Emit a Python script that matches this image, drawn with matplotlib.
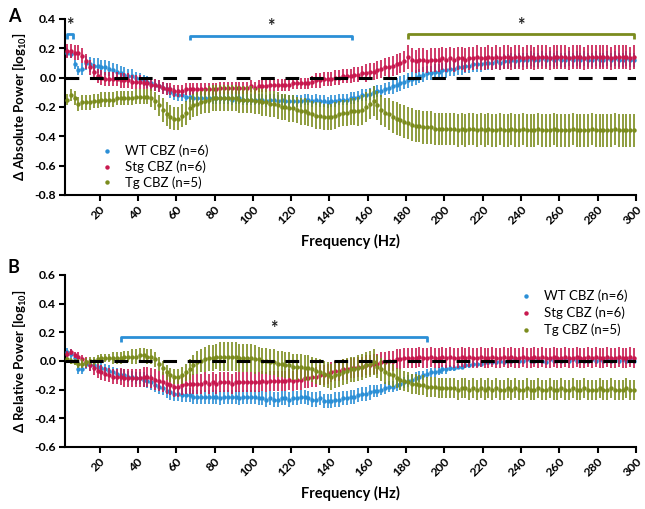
import numpy as np
import matplotlib
matplotlib.use("Agg")
import matplotlib.pyplot as plt

plt.rcParams['font.family'] = ['Lato', 'DejaVu Sans']
plt.rcParams['mathtext.fontset'] = 'custom'
plt.rcParams['mathtext.rm'] = 'Lato'
plt.rcParams['mathtext.bf'] = 'Lato:bold'

freq = list(range(3, 300, 2))  # Hz

# ---------------- Panel A: absolute power ----------------
absA_wt = [
    0.17, 0.16, 0.09, 0.05, 0.06, 0.10, 0.09, 0.08, 0.08, 0.07,
    0.07, 0.06, 0.05, 0.04, 0.03, 0.02, 0.01, 0.01, 0.00, -0.01,
    -0.02, -0.03, -0.04, -0.05, -0.06, -0.07, -0.08, -0.10, -0.11, -0.12,
    -0.12, -0.13, -0.13, -0.14, -0.14, -0.14, -0.14, -0.14, -0.14, -0.14,
    -0.14, -0.14, -0.14, -0.15, -0.14, -0.14, -0.15, -0.15, -0.15, -0.15,
    -0.15, -0.15, -0.16, -0.15, -0.15, -0.16, -0.15, -0.16, -0.16, -0.16,
    -0.16, -0.16, -0.15, -0.15, -0.16, -0.15, -0.16, -0.16, -0.17, -0.16,
    -0.16, -0.15, -0.15, -0.15, -0.14, -0.14, -0.13, -0.12, -0.12, -0.11,
    -0.10, -0.09, -0.09, -0.08, -0.07, -0.06, -0.05, -0.04, -0.03, -0.02,
    -0.01, 0.00, 0.01, 0.02, 0.03, 0.03, 0.04, 0.04, 0.05, 0.05,
    0.06, 0.06, 0.07, 0.07, 0.08, 0.08, 0.09, 0.09, 0.09, 0.10,
    0.10, 0.10, 0.11, 0.10, 0.11, 0.11, 0.12, 0.11, 0.12, 0.12,
    0.12, 0.13, 0.12, 0.12, 0.13, 0.12, 0.13, 0.12, 0.13, 0.12,
    0.12, 0.13, 0.12, 0.13, 0.12, 0.13, 0.12, 0.12, 0.13, 0.12,
    0.12, 0.13, 0.12, 0.13, 0.12, 0.12, 0.13, 0.12, 0.12]
absA_stg = [
    0.18, 0.18, 0.17, 0.17, 0.15, 0.11, 0.07, 0.04, 0.01, 0.00,
    -0.01, -0.01, -0.01, -0.01, -0.02, -0.02, -0.02, -0.03, -0.03, -0.03,
    -0.04, -0.04, -0.05, -0.05, -0.06, -0.07, -0.08, -0.08, -0.09, -0.09,
    -0.09, -0.08, -0.08, -0.08, -0.08, -0.08, -0.08, -0.08, -0.08, -0.08,
    -0.07, -0.07, -0.07, -0.07, -0.07, -0.07, -0.07, -0.07, -0.06, -0.07,
    -0.06, -0.06, -0.06, -0.05, -0.05, -0.05, -0.05, -0.05, -0.05, -0.04,
    -0.04, -0.04, -0.04, -0.04, -0.03, -0.02, -0.02, -0.01, -0.01, -0.01,
    0.00, 0.00, 0.01, 0.01, 0.01, 0.02, 0.02, 0.03, 0.03, 0.04,
    0.04, 0.05, 0.06, 0.07, 0.07, 0.08, 0.09, 0.10, 0.11, 0.14,
    0.12, 0.11, 0.12, 0.12, 0.11, 0.12, 0.12, 0.12, 0.13, 0.12,
    0.13, 0.12, 0.13, 0.13, 0.12, 0.13, 0.13, 0.14, 0.13, 0.13,
    0.14, 0.13, 0.14, 0.13, 0.14, 0.14, 0.13, 0.14, 0.14, 0.13,
    0.14, 0.14, 0.13, 0.14, 0.14, 0.14, 0.13, 0.14, 0.14, 0.14,
    0.14, 0.13, 0.14, 0.14, 0.14, 0.13, 0.14, 0.14, 0.14, 0.14,
    0.14, 0.14, 0.13, 0.14, 0.14, 0.14, 0.14, 0.13, 0.14]
absA_tg = [
    -0.15, -0.12, -0.14, -0.18, -0.17, -0.17, -0.17, -0.16, -0.16, -0.15,
    -0.15, -0.15, -0.15, -0.14, -0.14, -0.14, -0.14, -0.14, -0.13, -0.13,
    -0.13, -0.13, -0.14, -0.16, -0.19, -0.22, -0.25, -0.27, -0.28, -0.28,
    -0.26, -0.24, -0.21, -0.19, -0.18, -0.17, -0.16, -0.15, -0.14, -0.14,
    -0.14, -0.14, -0.14, -0.14, -0.14, -0.15, -0.15, -0.15, -0.15, -0.16,
    -0.16, -0.17, -0.17, -0.18, -0.18, -0.19, -0.20, -0.20, -0.21, -0.21,
    -0.22, -0.23, -0.23, -0.24, -0.25, -0.26, -0.26, -0.27, -0.27, -0.27,
    -0.26, -0.25, -0.24, -0.24, -0.23, -0.23, -0.23, -0.22, -0.20, -0.18,
    -0.16, -0.19, -0.22, -0.24, -0.25, -0.27, -0.28, -0.29, -0.30, -0.31,
    -0.32, -0.33, -0.33, -0.34, -0.34, -0.34, -0.35, -0.35, -0.35, -0.35,
    -0.35, -0.35, -0.36, -0.35, -0.36, -0.35, -0.35, -0.36, -0.35, -0.36,
    -0.35, -0.36, -0.36, -0.35, -0.36, -0.36, -0.35, -0.36, -0.36, -0.35,
    -0.36, -0.36, -0.36, -0.35, -0.36, -0.36, -0.36, -0.35, -0.36, -0.36,
    -0.36, -0.36, -0.35, -0.36, -0.36, -0.36, -0.36, -0.35, -0.36, -0.36,
    -0.36, -0.36, -0.36, -0.35, -0.36, -0.36, -0.36, -0.36, -0.36]
errA_wt = [
    0.03, 0.03, 0.03, 0.03, 0.04, 0.05, 0.05, 0.05, 0.05, 0.05,
    0.05, 0.05, 0.05, 0.05, 0.05, 0.05, 0.05, 0.05, 0.04, 0.04,
    0.04, 0.04, 0.04, 0.04, 0.04, 0.04, 0.04, 0.04, 0.04, 0.04,
    0.04, 0.04, 0.04, 0.04, 0.04, 0.04, 0.04, 0.04, 0.04, 0.04,
    0.04, 0.04, 0.04, 0.04, 0.04, 0.04, 0.04, 0.04, 0.04, 0.04,
    0.04, 0.04, 0.04, 0.04, 0.04, 0.04, 0.04, 0.04, 0.04, 0.04,
    0.04, 0.04, 0.04, 0.04, 0.04, 0.04, 0.04, 0.04, 0.04, 0.04,
    0.04, 0.04, 0.04, 0.04, 0.04, 0.04, 0.04, 0.04, 0.04, 0.04,
    0.04, 0.04, 0.04, 0.04, 0.04, 0.05, 0.05, 0.05, 0.05, 0.05,
    0.05, 0.05, 0.05, 0.05, 0.05, 0.05, 0.05, 0.05, 0.05, 0.05,
    0.05, 0.05, 0.05, 0.05, 0.05, 0.05, 0.05, 0.05, 0.05, 0.05,
    0.05, 0.05, 0.05, 0.05, 0.05, 0.05, 0.05, 0.05, 0.05, 0.05,
    0.05, 0.05, 0.05, 0.05, 0.05, 0.05, 0.05, 0.05, 0.05, 0.05,
    0.05, 0.05, 0.05, 0.05, 0.05, 0.05, 0.05, 0.05, 0.05, 0.05,
    0.05, 0.05, 0.05, 0.05, 0.05, 0.05, 0.05, 0.05, 0.05]
errA_stg = [
    0.05, 0.05, 0.05, 0.05, 0.05, 0.05, 0.05, 0.05, 0.05, 0.05,
    0.05, 0.05, 0.05, 0.05, 0.05, 0.05, 0.05, 0.05, 0.05, 0.05,
    0.04, 0.04, 0.04, 0.04, 0.04, 0.04, 0.04, 0.04, 0.04, 0.04,
    0.04, 0.04, 0.04, 0.04, 0.04, 0.04, 0.04, 0.04, 0.04, 0.04,
    0.04, 0.04, 0.04, 0.04, 0.04, 0.04, 0.04, 0.04, 0.04, 0.04,
    0.04, 0.04, 0.04, 0.04, 0.04, 0.04, 0.04, 0.04, 0.04, 0.04,
    0.04, 0.04, 0.04, 0.04, 0.04, 0.05, 0.05, 0.05, 0.05, 0.05,
    0.05, 0.05, 0.05, 0.05, 0.05, 0.05, 0.05, 0.05, 0.06, 0.06,
    0.06, 0.06, 0.06, 0.06, 0.07, 0.07, 0.07, 0.07, 0.07, 0.08,
    0.08, 0.08, 0.08, 0.08, 0.08, 0.08, 0.08, 0.08, 0.08, 0.08,
    0.08, 0.08, 0.08, 0.08, 0.08, 0.08, 0.08, 0.08, 0.08, 0.08,
    0.08, 0.08, 0.08, 0.08, 0.08, 0.08, 0.08, 0.08, 0.08, 0.08,
    0.08, 0.08, 0.08, 0.08, 0.08, 0.08, 0.08, 0.08, 0.08, 0.08,
    0.08, 0.08, 0.08, 0.08, 0.08, 0.08, 0.08, 0.08, 0.08, 0.08,
    0.08, 0.08, 0.08, 0.08, 0.08, 0.08, 0.08, 0.08, 0.08]
errA_tg = [
    0.04, 0.04, 0.05, 0.05, 0.05, 0.05, 0.05, 0.05, 0.05, 0.05,
    0.05, 0.05, 0.05, 0.05, 0.05, 0.05, 0.05, 0.05, 0.05, 0.05,
    0.05, 0.05, 0.06, 0.06, 0.07, 0.08, 0.08, 0.08, 0.08, 0.08,
    0.08, 0.08, 0.08, 0.08, 0.08, 0.08, 0.08, 0.09, 0.09, 0.09,
    0.09, 0.09, 0.09, 0.09, 0.09, 0.09, 0.09, 0.09, 0.09, 0.09,
    0.09, 0.09, 0.09, 0.09, 0.09, 0.09, 0.09, 0.09, 0.09, 0.09,
    0.09, 0.09, 0.09, 0.09, 0.09, 0.09, 0.09, 0.09, 0.09, 0.09,
    0.09, 0.09, 0.09, 0.09, 0.09, 0.09, 0.10, 0.10, 0.10, 0.10,
    0.10, 0.10, 0.10, 0.10, 0.11, 0.11, 0.11, 0.11, 0.11, 0.11,
    0.11, 0.11, 0.11, 0.11, 0.11, 0.11, 0.11, 0.11, 0.11, 0.11,
    0.11, 0.11, 0.11, 0.11, 0.11, 0.11, 0.11, 0.11, 0.11, 0.11,
    0.11, 0.11, 0.11, 0.11, 0.11, 0.11, 0.11, 0.11, 0.11, 0.11,
    0.11, 0.11, 0.11, 0.11, 0.11, 0.11, 0.11, 0.11, 0.11, 0.11,
    0.11, 0.11, 0.11, 0.11, 0.11, 0.11, 0.11, 0.11, 0.11, 0.11,
    0.11, 0.11, 0.11, 0.11, 0.11, 0.11, 0.11, 0.11, 0.11]

# ---------------- Panel B: relative power ----------------
relB_wt = [
    0.06, 0.05, 0.02, -0.06, -0.06, -0.02, -0.03, -0.03, -0.04, -0.05,
    -0.06, -0.07, -0.08, -0.09, -0.10, -0.10, -0.11, -0.11, -0.12, -0.12,
    -0.13, -0.14, -0.15, -0.17, -0.18, -0.19, -0.21, -0.22, -0.23, -0.23,
    -0.24, -0.24, -0.24, -0.25, -0.25, -0.25, -0.25, -0.25, -0.25, -0.25,
    -0.26, -0.25, -0.25, -0.25, -0.25, -0.26, -0.25, -0.25, -0.25, -0.25,
    -0.26, -0.26, -0.27, -0.26, -0.27, -0.27, -0.26, -0.26, -0.27, -0.26,
    -0.26, -0.25, -0.25, -0.26, -0.27, -0.27, -0.26, -0.28, -0.28, -0.28,
    -0.27, -0.27, -0.26, -0.26, -0.25, -0.25, -0.24, -0.23, -0.23, -0.22,
    -0.21, -0.21, -0.20, -0.19, -0.18, -0.18, -0.17, -0.16, -0.15, -0.14,
    -0.13, -0.12, -0.11, -0.10, -0.09, -0.08, -0.08, -0.07, -0.06, -0.06,
    -0.05, -0.05, -0.04, -0.04, -0.03, -0.03, -0.02, -0.02, -0.02, -0.01,
    -0.01, -0.01, -0.01, 0.00, -0.01, 0.00, 0.00, 0.01, 0.00, 0.00,
    0.01, 0.00, 0.00, 0.01, 0.00, -0.01, 0.01, 0.00, 0.01, 0.00,
    0.01, 0.00, 0.01, 0.00, 0.01, 0.00, 0.00, 0.01, 0.00, 0.01,
    0.00, 0.01, 0.00, 0.01, 0.00, 0.01, 0.00, 0.01, 0.00]
relB_stg = [
    0.05, 0.06, 0.04, 0.03, 0.01, -0.01, -0.03, -0.05, -0.07, -0.08,
    -0.09, -0.10, -0.11, -0.11, -0.11, -0.12, -0.12, -0.12, -0.12, -0.12,
    -0.11, -0.11, -0.12, -0.13, -0.14, -0.15, -0.16, -0.17, -0.18, -0.18,
    -0.17, -0.16, -0.16, -0.16, -0.16, -0.16, -0.15, -0.16, -0.15, -0.16,
    -0.15, -0.15, -0.15, -0.16, -0.15, -0.15, -0.15, -0.15, -0.15, -0.15,
    -0.15, -0.14, -0.15, -0.14, -0.14, -0.14, -0.14, -0.14, -0.13, -0.14,
    -0.13, -0.13, -0.12, -0.12, -0.11, -0.11, -0.10, -0.10, -0.09, -0.08,
    -0.07, -0.07, -0.06, -0.06, -0.05, -0.05, -0.04, -0.04, -0.03, -0.03,
    -0.02, -0.02, -0.01, -0.01, 0.00, 0.00, 0.01, 0.01, 0.02, 0.02,
    0.02, 0.02, 0.03, 0.02, 0.02, 0.03, 0.02, 0.02, 0.03, 0.02,
    0.03, 0.02, 0.02, 0.03, 0.02, 0.03, 0.02, 0.02, 0.03, 0.02,
    0.02, 0.03, 0.02, 0.02, 0.03, 0.02, 0.03, 0.02, 0.02, 0.03,
    0.02, 0.02, 0.03, 0.02, 0.03, 0.02, 0.02, 0.03, 0.02, 0.02,
    0.03, 0.02, 0.02, 0.03, 0.02, 0.02, 0.03, 0.02, 0.03, 0.02,
    0.02, 0.03, 0.02, 0.02, 0.03, 0.02, 0.02, 0.03, 0.02]
relB_tg = [
    0.01, 0.00, -0.01, -0.02, -0.02, -0.01, 0.00, 0.00, 0.01, 0.02,
    0.02, 0.02, 0.02, 0.02, 0.02, 0.03, 0.03, 0.03, 0.03, 0.04,
    0.04, 0.03, 0.03, 0.01, -0.02, -0.05, -0.08, -0.10, -0.11, -0.11,
    -0.10, -0.08, -0.06, -0.03, -0.01, 0.00, 0.01, 0.02, 0.02, 0.03,
    0.03, 0.03, 0.03, 0.03, 0.03, 0.02, 0.02, 0.02, 0.02, 0.01,
    0.01, 0.00, 0.00, -0.01, -0.01, -0.02, -0.02, -0.03, -0.03, -0.04,
    -0.04, -0.04, -0.05, -0.05, -0.06, -0.07, -0.08, -0.09, -0.10, -0.11,
    -0.10, -0.09, -0.08, -0.07, -0.06, -0.06, -0.05, -0.04, -0.03, -0.02,
    -0.01, -0.04, -0.06, -0.08, -0.09, -0.10, -0.12, -0.13, -0.14, -0.15,
    -0.16, -0.16, -0.17, -0.17, -0.18, -0.18, -0.18, -0.19, -0.19, -0.19,
    -0.19, -0.19, -0.20, -0.19, -0.19, -0.20, -0.19, -0.20, -0.19, -0.20,
    -0.19, -0.20, -0.19, -0.20, -0.20, -0.19, -0.20, -0.19, -0.20, -0.20,
    -0.19, -0.20, -0.20, -0.19, -0.20, -0.20, -0.19, -0.20, -0.20, -0.19,
    -0.20, -0.20, -0.19, -0.20, -0.20, -0.19, -0.20, -0.20, -0.20, -0.19,
    -0.20, -0.20, -0.19, -0.20, -0.20, -0.20, -0.19, -0.20, -0.20]
errB_wt = [
    0.03, 0.03, 0.03, 0.03, 0.03, 0.04, 0.04, 0.04, 0.04, 0.04,
    0.04, 0.04, 0.04, 0.04, 0.04, 0.04, 0.04, 0.04, 0.04, 0.04,
    0.05, 0.05, 0.05, 0.05, 0.05, 0.05, 0.05, 0.05, 0.05, 0.05,
    0.05, 0.05, 0.05, 0.05, 0.05, 0.05, 0.05, 0.05, 0.05, 0.05,
    0.05, 0.05, 0.05, 0.05, 0.05, 0.05, 0.05, 0.05, 0.05, 0.05,
    0.05, 0.05, 0.05, 0.05, 0.05, 0.05, 0.05, 0.05, 0.05, 0.05,
    0.05, 0.05, 0.05, 0.05, 0.05, 0.05, 0.05, 0.05, 0.05, 0.05,
    0.05, 0.05, 0.05, 0.05, 0.05, 0.05, 0.05, 0.05, 0.05, 0.05,
    0.04, 0.04, 0.04, 0.04, 0.04, 0.04, 0.04, 0.04, 0.04, 0.04,
    0.04, 0.04, 0.04, 0.03, 0.03, 0.03, 0.03, 0.03, 0.03, 0.03,
    0.02, 0.02, 0.02, 0.02, 0.02, 0.02, 0.02, 0.02, 0.02, 0.02,
    0.02, 0.02, 0.02, 0.02, 0.02, 0.02, 0.02, 0.02, 0.02, 0.02,
    0.02, 0.02, 0.02, 0.02, 0.02, 0.02, 0.02, 0.02, 0.02, 0.02,
    0.02, 0.02, 0.02, 0.02, 0.02, 0.02, 0.02, 0.02, 0.02, 0.02,
    0.02, 0.02, 0.02, 0.02, 0.02, 0.02, 0.02, 0.02, 0.02]
errB_stg = [
    0.02, 0.02, 0.02, 0.03, 0.03, 0.04, 0.04, 0.05, 0.05, 0.05,
    0.05, 0.05, 0.05, 0.05, 0.06, 0.06, 0.06, 0.06, 0.06, 0.06,
    0.07, 0.07, 0.07, 0.07, 0.07, 0.07, 0.07, 0.07, 0.07, 0.07,
    0.07, 0.07, 0.07, 0.07, 0.07, 0.07, 0.07, 0.07, 0.07, 0.07,
    0.07, 0.07, 0.07, 0.07, 0.07, 0.07, 0.07, 0.07, 0.07, 0.07,
    0.07, 0.07, 0.07, 0.07, 0.07, 0.07, 0.07, 0.07, 0.07, 0.07,
    0.07, 0.07, 0.07, 0.07, 0.07, 0.07, 0.07, 0.07, 0.07, 0.07,
    0.07, 0.07, 0.07, 0.07, 0.07, 0.07, 0.07, 0.07, 0.07, 0.07,
    0.07, 0.07, 0.07, 0.07, 0.07, 0.07, 0.07, 0.07, 0.07, 0.07,
    0.07, 0.07, 0.07, 0.07, 0.07, 0.07, 0.07, 0.07, 0.07, 0.07,
    0.07, 0.07, 0.07, 0.07, 0.07, 0.07, 0.07, 0.07, 0.07, 0.07,
    0.07, 0.07, 0.07, 0.07, 0.07, 0.07, 0.07, 0.07, 0.07, 0.07,
    0.07, 0.07, 0.07, 0.07, 0.07, 0.07, 0.07, 0.07, 0.07, 0.07,
    0.07, 0.07, 0.07, 0.07, 0.07, 0.07, 0.07, 0.07, 0.07, 0.07,
    0.07, 0.07, 0.07, 0.07, 0.07, 0.07, 0.07, 0.07, 0.07]
errB_tg = [
    0.02, 0.02, 0.02, 0.03, 0.03, 0.03, 0.03, 0.03, 0.03, 0.03,
    0.03, 0.03, 0.04, 0.04, 0.04, 0.04, 0.04, 0.05, 0.05, 0.05,
    0.05, 0.05, 0.05, 0.05, 0.05, 0.05, 0.05, 0.05, 0.05, 0.05,
    0.06, 0.06, 0.07, 0.07, 0.08, 0.08, 0.09, 0.09, 0.09, 0.09,
    0.10, 0.10, 0.10, 0.10, 0.10, 0.10, 0.10, 0.10, 0.10, 0.10,
    0.09, 0.09, 0.09, 0.09, 0.09, 0.09, 0.09, 0.09, 0.09, 0.09,
    0.09, 0.09, 0.09, 0.09, 0.09, 0.09, 0.09, 0.09, 0.09, 0.09,
    0.09, 0.09, 0.09, 0.09, 0.09, 0.09, 0.09, 0.09, 0.09, 0.09,
    0.09, 0.08, 0.08, 0.08, 0.08, 0.08, 0.07, 0.07, 0.07, 0.07,
    0.07, 0.07, 0.07, 0.07, 0.07, 0.07, 0.07, 0.07, 0.07, 0.07,
    0.07, 0.07, 0.07, 0.07, 0.07, 0.07, 0.07, 0.07, 0.07, 0.07,
    0.07, 0.07, 0.07, 0.07, 0.07, 0.07, 0.07, 0.07, 0.07, 0.07,
    0.07, 0.07, 0.07, 0.07, 0.07, 0.07, 0.07, 0.07, 0.07, 0.07,
    0.07, 0.07, 0.07, 0.07, 0.07, 0.07, 0.07, 0.07, 0.07, 0.07,
    0.07, 0.07, 0.07, 0.07, 0.07, 0.07, 0.07, 0.07, 0.07]

labels = ["WT CBZ (n=6)", "Stg CBZ (n=6)", "Tg CBZ (n=5)"]
colors = ["#2b8fd6", "#c8194f", "#7b8c1e"]

# significance brackets: (start Hz, end Hz, series index)
sigA = [(3, 6, 0), (67, 152, 0), (181, 299, 2)]
sigB = [(31, 191, 0)]

x_ticks = list(range(20, 301, 20))

fig = plt.figure(figsize=(6.45, 5.09), dpi=100)
axA = fig.add_axes([0.100, 0.617, 0.886, 0.346])
axB = fig.add_axes([0.100, 0.122, 0.886, 0.338])


def draw_panel(ax, series, errs, ylim, yticks, ylabel, sig, bracket_y, drop):
    order = [1, 2, 0]
    for k in order:
        ax.errorbar(freq, series[k], yerr=errs[k], fmt='o', ms=3.2,
                    color=colors[k], ecolor=colors[k], elinewidth=1.2,
                    capsize=0, mew=0, zorder=3 + k)
    ax.axhline(0, color='black', lw=2.2, ls=(0, (4.5, 3.5)), zorder=10)
    ax.set_xlim(1.7, 300)
    ax.set_ylim(*ylim)
    ax.set_yticks(yticks)
    ax.set_yticklabels([f"{v:.1f}" for v in yticks], fontweight='bold', fontsize=8.8)
    ax.set_xticks(x_ticks)
    ax.set_xticklabels([str(t) for t in x_ticks], rotation=45, ha='right',
                       va='top', rotation_mode='anchor', fontweight='bold', fontsize=8.8)
    for s in ['top', 'right']:
        ax.spines[s].set_visible(False)
    for s in ['left', 'bottom']:
        ax.spines[s].set_linewidth(1.5)
    ax.tick_params(width=1.5, length=4, pad=2)
    ax.set_ylabel(ylabel, fontweight='bold', fontsize=9.5, labelpad=4)
    ax.set_xlabel("Frequency (Hz)", fontweight='bold', fontsize=10.5, labelpad=6)
    for (f0, f1, c), yb in zip(sig, bracket_y):
        ax.plot([f0, f0, f1, f1], [yb - drop, yb, yb, yb - drop], color=colors[c],
                lw=2, solid_capstyle='butt', clip_on=False, zorder=6)
        ax.text((f0 + f1) / 2, yb + 0.005, "*", ha='center', va='bottom',
                fontsize=13, fontweight='bold', color='#222222')


draw_panel(axA, [absA_wt, absA_stg, absA_tg], [errA_wt, errA_stg, errA_tg],
           (-0.8, 0.4), [-0.8, -0.6, -0.4, -0.2, 0.0, 0.2, 0.4],
           r"Δ Absolute Power [log$_{\mathbf{10}}$]", sigA, [0.295, 0.283, 0.295], 0.03)
draw_panel(axB, [relB_wt, relB_stg, relB_tg], [errB_wt, errB_stg, errB_tg],
           (-0.6, 0.6), [-0.6, -0.4, -0.2, 0.0, 0.2, 0.4, 0.6],
           r"Δ Relative Power [log$_{\mathbf{10}}$]", sigB, [0.165], 0.035)

from matplotlib.lines import Line2D
leg_handles = [Line2D([], [], marker='o', ls='none', ms=3.2, mew=0, color=c) for c in colors]
axA.legend(leg_handles, labels, loc='center left', bbox_to_anchor=(0.145, 0.672),
           bbox_transform=fig.transFigure, frameon=False, fontsize=9.5,
           handlelength=1.0, handletextpad=0.9, labelspacing=0.25, borderpad=0)
axB.legend(leg_handles, labels, loc='center left', bbox_to_anchor=(0.795, 0.385),
           bbox_transform=fig.transFigure, frameon=False, fontsize=9.5,
           handlelength=1.0, handletextpad=0.9, labelspacing=0.35, borderpad=0)

fig.text(0.012, 0.968, "A", fontsize=13, fontweight='bold', va='center')
fig.text(0.012, 0.475, "B", fontsize=13, fontweight='bold', va='center')

fig.savefig("out.png", dpi=100)
